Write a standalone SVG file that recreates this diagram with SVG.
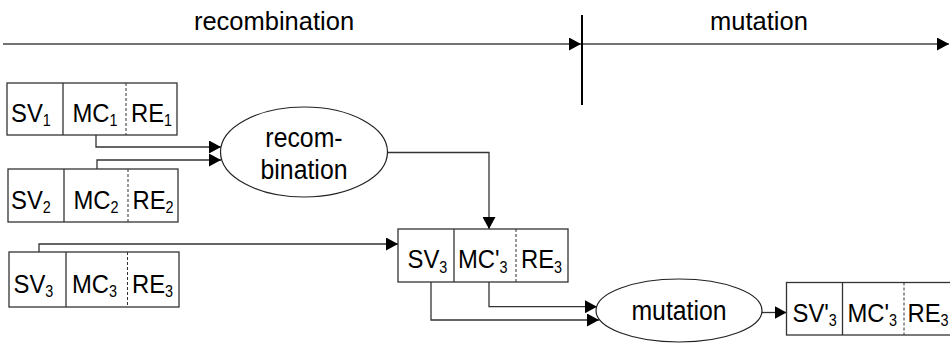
<svg xmlns="http://www.w3.org/2000/svg" width="950" height="344" viewBox="0 0 950 344">
<defs>
<marker id="ah" markerUnits="userSpaceOnUse" markerWidth="12" markerHeight="13" refX="12" refY="6.5" orient="auto">
<path d="M0,0 L12,6.5 L0,13 z" fill="#000"/>
</marker>
<style>
text{font-family:"Liberation Sans",Arial,sans-serif;font-size:25.5px;fill:#000}
.bt{font-size:26.5px}
.et{font-size:27px}
.sub{font-size:16px}
.box{fill:#fff;stroke:#333;stroke-width:1.3}
.div{stroke:#333;stroke-width:1.3}
.dash{stroke:#333;stroke-width:1;stroke-dasharray:3,2}
.ell{fill:#fff;stroke:#222;stroke-width:1.2}
.con{fill:none;stroke:#333;stroke-width:1.3;marker-end:url(#ah)}
</style>
</defs>
<rect width="950" height="344" fill="#fff"/>

<g id="timeline">
<line x1="3" y1="44" x2="581" y2="44" stroke="#444" stroke-width="1.6" marker-end="url(#ah)"/>
<line x1="582" y1="44" x2="949" y2="44" stroke="#444" stroke-width="1.6" marker-end="url(#ah)"/>
<line x1="582" y1="15" x2="582" y2="105" stroke="#000" stroke-width="2"/>
<text x="274" y="30" text-anchor="middle">recombination</text>
<text x="759" y="30" text-anchor="middle">mutation</text>
</g>

<g id="connectors">
<polyline class="con" points="96,135 96,147 221,147"/>
<polyline class="con" points="97,169 97,160 221,160"/>
<polyline class="con" points="387,152.5 489,152.5 489,229"/>
<polyline class="con" points="39,252 39,244 398,244"/>
<polyline class="con" points="489,282 489,306.7 597,306.7"/>
<polyline class="con" points="431,282 431,320 599,320"/>
<polyline class="con" points="762,312.5 786.5,312.5"/>
</g>

<g id="chrom1">
<rect class="box" x="7" y="83" width="170" height="52"/>
<line class="div" x1="63" y1="83" x2="63" y2="135"/>
<line class="dash" x1="126" y1="83" x2="126" y2="135"/>
<text class="bt" transform="translate(11 121.5) scale(.9 1)">SV<tspan class="sub" dy="4.5">1</tspan></text>
<text class="bt" transform="translate(72.5 121.5) scale(.9 1)">MC<tspan class="sub" dy="4.5">1</tspan></text>
<text class="bt" transform="translate(131 121.5) scale(.9 1)">RE<tspan class="sub" dy="4.5">1</tspan></text>
</g>

<g id="chrom2">
<rect class="box" x="8" y="169" width="170" height="53"/>
<line class="div" x1="64" y1="169" x2="64" y2="222"/>
<line class="dash" x1="128" y1="169" x2="128" y2="222"/>
<text class="bt" transform="translate(11 208.5) scale(.9 1)">SV<tspan class="sub" dy="4.5">2</tspan></text>
<text class="bt" transform="translate(73.5 208.5) scale(.9 1)">MC<tspan class="sub" dy="4.5">2</tspan></text>
<text class="bt" transform="translate(132.5 208.5) scale(.9 1)">RE<tspan class="sub" dy="4.5">2</tspan></text>
</g>

<g id="chrom3">
<rect class="box" x="9" y="252" width="170" height="55"/>
<line class="div" x1="66" y1="252" x2="66" y2="307"/>
<line class="dash" x1="127.5" y1="252" x2="127.5" y2="307"/>
<text class="bt" transform="translate(13.5 292.5) scale(.9 1)">SV<tspan class="sub" dy="4.5">3</tspan></text>
<text class="bt" transform="translate(72 292.5) scale(.9 1)">MC<tspan class="sub" dy="4.5">3</tspan></text>
<text class="bt" transform="translate(132 292.5) scale(.9 1)">RE<tspan class="sub" dy="4.5">3</tspan></text>
</g>

<g id="recombination">
<ellipse class="ell" cx="304" cy="152" rx="83.5" ry="45"/>
<text class="et" text-anchor="middle" transform="translate(304 146.5) scale(.92 1)">recom-</text>
<text class="et" text-anchor="middle" transform="translate(304 179) scale(.92 1)">bination</text>
</g>

<g id="chrom-recombined">
<rect class="box" x="398" y="229" width="170" height="53"/>
<line class="div" x1="454" y1="229" x2="454" y2="282"/>
<line class="dash" x1="516" y1="229" x2="516" y2="282"/>
<text class="bt" transform="translate(407.5 268) scale(.9 1)">SV<tspan class="sub" dy="4.5">3</tspan></text>
<text class="bt" transform="translate(458 268) scale(.9 1)">MC'<tspan class="sub" dy="4.5">3</tspan></text>
<text class="bt" transform="translate(521 268) scale(.9 1)">RE<tspan class="sub" dy="4.5">3</tspan></text>
</g>

<g id="mutation">
<ellipse class="ell" cx="679" cy="310.5" rx="83" ry="31.5"/>
<text class="et" text-anchor="middle" transform="translate(679 320) scale(.92 1)">mutation</text>
</g>

<g id="chrom-mutated">
<rect class="box" x="786.5" y="282.5" width="175" height="52.5"/>
<line class="div" x1="842.5" y1="282.5" x2="842.5" y2="335"/>
<line class="dash" x1="904" y1="282.5" x2="904" y2="335"/>
<text class="bt" transform="translate(792.5 321.5) scale(.9 1)">SV'<tspan class="sub" dy="4.5">3</tspan></text>
<text class="bt" transform="translate(847.5 321.5) scale(.9 1)">MC'<tspan class="sub" dy="4.5">3</tspan></text>
<text class="bt" transform="translate(907.5 321.5) scale(.9 1)">RE<tspan class="sub" dy="4.5">3</tspan></text>
</g>
</svg>
